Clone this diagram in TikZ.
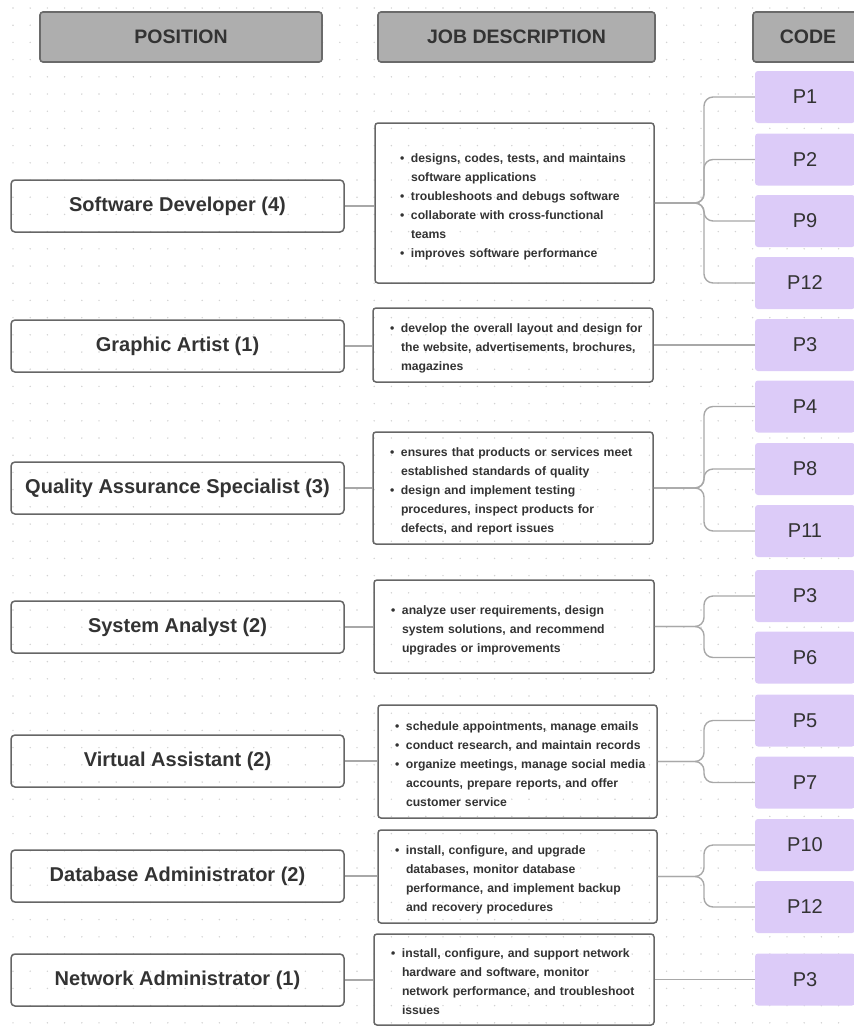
\documentclass[tikz,border=0pt]{standalone}
\usepackage{fontspec}
\setmainfont{Liberation Sans}
\usepackage{xcolor}
\definecolor{dotgray}{HTML}{D2D2D2}
\definecolor{headfill}{HTML}{AEAEAE}
\definecolor{headline}{HTML}{6A6A6A}
\definecolor{boxline}{HTML}{666666}
\definecolor{linkgray}{HTML}{A8A8A8}
\definecolor{codefill}{HTML}{DCCBF8}
\definecolor{inkgray}{HTML}{333333}
\hyphenpenalty=10000
\exhyphenpenalty=10000
\newcommand{\bitem}[1]{\par\noindent\makebox[22pt][l]{\hspace{11pt}\textbullet}\parbox[t]{\dimexpr\hsize-22pt\relax}{\raggedright #1\strut}\par\prevdepth=\dp\strutbox}

\begin{document}
\begin{tikzpicture}[x=1pt,y=-1pt,
        head/.style={draw=headline,line width=1.6pt,fill=headfill,rounded corners=3pt,minimum height=50pt,text=inkgray,font=\bfseries\fontsize{19.5}{22}\selectfont},
        posbox/.style={draw=boxline,line width=1.5pt,rounded corners=4pt,minimum width=333pt,minimum height=52pt,text=inkgray,font=\bfseries\fontsize{20}{24}\selectfont},
        descbox/.style={draw=boxline,line width=1.5pt,rounded corners=3pt,inner xsep=6pt,align=left,text=inkgray,font=\bfseries\fontsize{12.2}{19}\selectfont},
        codebox/.style={fill=codefill,rounded corners=3pt,minimum width=100pt,minimum height=52pt,text=inkgray,font=\fontsize{20}{24}\selectfont},
        link/.style={draw=linkgray,line width=1.4pt},
        branch/.style={link,rounded corners=9pt}]
                \useasboundingbox (0,0) rectangle (854,1026);
                \clip (0,0) rectangle (854,1026);

                \foreach \i in {0,...,50}
                    \foreach \j in {0,...,60}
                        \fill[dotgray] (13+17.2*\i,8+17.2*\j) circle (0.8pt);

                \node[head,minimum width=282pt] (hpos)  at (181,37)   {POSITION};
                \node[head,minimum width=277pt] (hdesc) at (516.5,37) {JOB DESCRIPTION};
                \node[head,minimum width=110pt] (hcode) at (808,37)   {CODE};

                \node[posbox] (sd) at (177.5,206) {Software Developer (4)};
                \node[posbox] (ga) at (177.5,346) {Graphic Artist (1)};
                \node[posbox] (qa) at (177.5,488) {Quality Assurance Specialist (3)};
                \node[posbox] (sa) at (177.5,627) {System Analyst (2)};
                \node[posbox] (va) at (177.5,761) {Virtual Assistant (2)};
                \node[posbox] (da) at (177.5,876) {Database Administrator (2)};
                \node[posbox] (na) at (177.5,980) {Network Administrator (1)};

                \node[descbox,inner xsep=14pt,text width=251pt,minimum height=160pt] (sdd) at (514.5,203)
                    {\bitem{designs, codes, tests, and maintains\\ software applications}
                     \bitem{troubleshoots and debugs software}
                     \bitem{collaborate with cross-functional\\ teams}
                     \bitem{improves software performance}};
                \node[descbox,text width=268pt,minimum height=74pt] (gad) at (513,345)
                    {\bitem{develop the overall layout and design for\\ the website, advertisements, brochures,\\ magazines}};
                \node[descbox,text width=268pt,minimum height=112pt] (qad) at (513,488)
                    {\bitem{ensures that products or services meet\\ established standards of quality}
                     \bitem{design and implement testing\\ procedures, inspect products for\\ defects, and report issues}};
                \node[descbox,text width=268pt,minimum height=93pt] (sad) at (514,626.5)
                    {\bitem{analyze user requirements, design\\ system solutions, and recommend\\ upgrades or improvements}};
                \node[descbox,text width=267pt,minimum height=113pt] (vad) at (517.5,761.5)
                    {\bitem{schedule appointments, manage emails}
                     \bitem{conduct research, and maintain records}
                     \bitem{organize meetings, manage social media\\ accounts, prepare reports, and offer\\ customer service}};
                \node[descbox,text width=267pt,minimum height=93pt] (dad) at (517.5,876.5)
                    {\bitem{install, configure, and upgrade\\ databases, monitor database\\ performance, and implement backup\\ and recovery procedures}};
                \node[descbox,text width=268pt,minimum height=91pt] (nad) at (514,979.5)
                    {\bitem{install, configure, and support network\\ hardware and software, monitor\\ network performance, and troubleshoot\\ issues}};

                \node[codebox] (p1)   at (805,97)    {P1};
                \node[codebox] (p2)   at (805,159.5) {P2};
                \node[codebox] (p9)   at (805,221)   {P9};
                \node[codebox] (p12a) at (805,283)   {P12};
                \node[codebox] (p3a)  at (805,345)   {P3};
                \node[codebox] (p4)   at (805,406.5) {P4};
                \node[codebox] (p8)   at (805,469)   {P8};
                \node[codebox] (p11)  at (805,531)   {P11};
                \node[codebox] (p3b)  at (805,596)   {P3};
                \node[codebox] (p6)   at (805,657.5) {P6};
                \node[codebox] (p5)   at (805,720.5) {P5};
                \node[codebox] (p7)   at (805,782.5) {P7};
                \node[codebox] (p10)  at (805,845)   {P10};
                \node[codebox] (p12b) at (805,907)   {P12};
                \node[codebox] (p3c)  at (805,979.5) {P3};

                \coordinate (jx) at (704,0);

                \draw[link] (sd.east) -- (sd.east -| sdd.west);
                \draw[link] (ga.east) -- (ga.east -| gad.west);
                \draw[link] (qa.east) -- (qa.east -| qad.west);
                \draw[link] (sa.east) -- (sa.east -| sad.west);
                \draw[link] (va.east) -- (va.east -| vad.west);
                \draw[link] (da.east) -- (da.east -| dad.west);
                \draw[link] (na.east) -- (na.east -| nad.west);

                \foreach \c in {p1,p2,p9,p12a}
                    \draw[branch] (sdd.east) -- (sdd.east -| jx) |- (\c.west);
                \draw[link] (gad.east) -- (p3a.west);
                \foreach \c in {p4,p8,p11}
                    \draw[branch] (qad.east) -- (qad.east -| jx) |- (\c.west);
                \foreach \c in {p3b,p6}
                    \draw[branch] (sad.east) -- (sad.east -| jx) |- (\c.west);
                \foreach \c in {p5,p7}
                    \draw[branch] (vad.east) -- (vad.east -| jx) |- (\c.west);
                \foreach \c in {p10,p12b}
                    \draw[branch] (dad.east) -- (dad.east -| jx) |- (\c.west);
                \draw[link] (nad.east) -- (p3c.west);
            \end{tikzpicture}
\end{document}
